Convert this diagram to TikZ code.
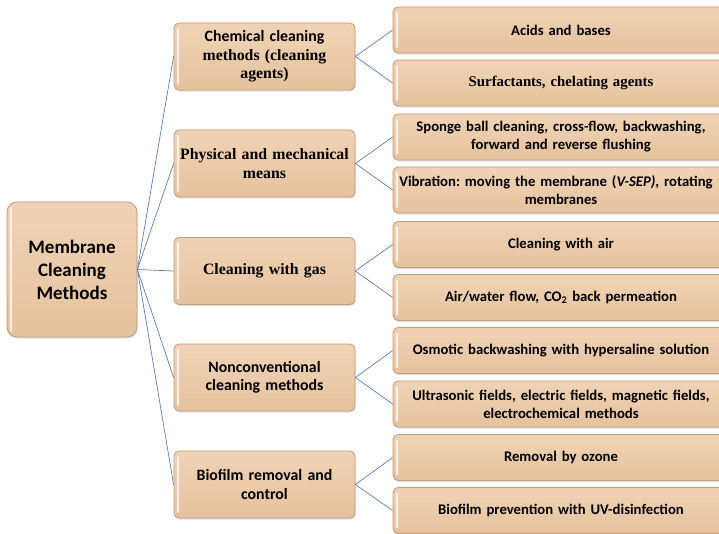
\documentclass[tikz,border=0pt]{standalone}
\usepackage{fontspec}
\setmainfont{Carlito}
\newfontfamily\serifbold{Liberation Serif}
\usetikzlibrary{shadows}
\definecolor{boxtop}{HTML}{F0D3B6}
\definecolor{boxbot}{HTML}{E5C29F}
\definecolor{boxline}{HTML}{C49B78}
\definecolor{linkblue}{HTML}{5B7DB5}
\tikzset{
  card/.style={rounded corners=5pt, top color=boxtop, bottom color=boxbot,
    draw=boxline, line width=0.8pt, align=center, inner sep=2pt,
    drop shadow={shadow xshift=0.6pt, shadow yshift=-1.6pt, opacity=0.25},
    path picture={
      \draw[white, opacity=0.75, line width=1.6pt, line cap=round]
        ([xshift=4pt, yshift=-6pt]path picture bounding box.north west) --
        ([xshift=4pt, yshift=6pt]path picture bounding box.south west);
    }},
  rootcard/.style={card, rounded corners=10pt, minimum width=130pt,
    minimum height=135pt, font=\fontsize{19}{23}\selectfont\bfseries},
  midcard/.style={card, minimum width=181pt, minimum height=67pt,
    text width=176pt, font=\fontsize{15.8}{18.5}\selectfont\bfseries},
  leafcard/.style={card, minimum width=336pt, minimum height=46pt,
    text width=330pt, font=\fontsize{14.7}{18}\selectfont\bfseries},
  link/.style={draw=linkblue, line width=0.7pt}
}
\begin{document}
\frenchspacing
\begin{tikzpicture}[x=1pt, y=-1pt]
\useasboundingbox (0,0) rectangle (719,534);
\begin{scope}
\clip (0,0) rectangle (719,534);

% root of the tree
\node[rootcard] (root) at (72,269.5) {Membrane\\Cleaning\\Methods};

% five groups of methods
\node[midcard] (chem) at (264.5,56.5)
  {Chemical cleaning\\{\serifbold methods (cleaning}\\{\serifbold agents)}};
\node[midcard] (phys) at (264.5,163.5)
  {\serifbold Physical and mechanical\\means};
\node[midcard] (gas) at (264.5,271) {\serifbold Cleaning with gas};
\node[midcard] (nonc) at (264.5,377.5) {Nonconventional\\cleaning methods};
\node[midcard] (bio) at (264.5,484.5) {Biofilm removal and\\control};

% individual methods (the cards run on past the right edge)
\node[leafcard] (acid) at (561,30) {Acids and bases};
\node[leafcard] (surf) at (561,83)
  {\serifbold\fontsize{14.8}{18}\selectfont Surfactants, chelating agents};
\node[leafcard] (spon) at (561,137)
  {Sponge ball cleaning, cross-flow, backwashing,\\forward and reverse flushing};
\node[leafcard] (vibr) at (561,190)
  {\hspace*{-10pt}Vibration: moving the membrane (\textit{V-SEP)}, rotating\\membranes};
\node[leafcard] (air) at (561,244.5) {Cleaning with air};
\node[leafcard] (airw) at (561,297.5)
  {Air/water flow, CO\textsubscript{2} back permeation};
\node[leafcard] (osmo) at (561,350.5)
  {Osmotic backwashing with hypersaline solution};
\node[leafcard] (ultr) at (561,404)
  {Ultrasonic fields, electric fields, magnetic fields,\\electrochemical methods};
\node[leafcard] (ozon) at (561,457.5) {Removal by ozone};
\node[leafcard] (uvds) at (561,510.5)
  {Biofilm prevention with UV-disinfection};

% connectors
\foreach \m in {chem,phys,gas,nonc,bio}
  \draw[link] (root.east) -- (\m.west);
\draw[link] (chem.east) -- (acid.west);
\draw[link] (chem.east) -- (surf.west);
\draw[link] (phys.east) -- (spon.west);
\draw[link] (phys.east) -- (vibr.west);
\draw[link] (gas.east) -- (air.west);
\draw[link] (gas.east) -- (airw.west);
\draw[link] (nonc.east) -- (osmo.west);
\draw[link] (nonc.east) -- (ultr.west);
\draw[link] (bio.east) -- (ozon.west);
\draw[link] (bio.east) -- (uvds.west);
\end{scope}
\end{tikzpicture}
\end{document}
